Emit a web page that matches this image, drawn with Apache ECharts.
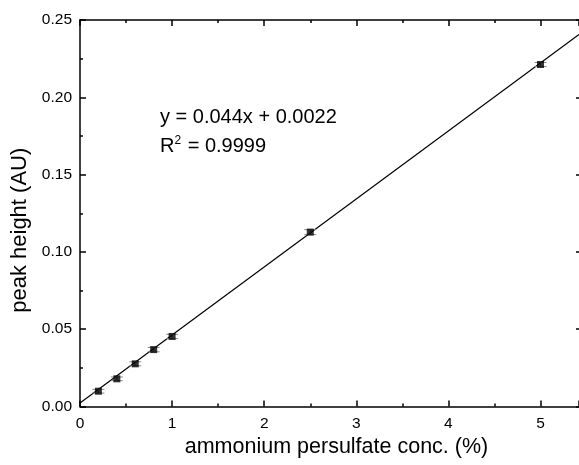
<!DOCTYPE html>
<html><head><meta charset="utf-8">
<script src="https://cdn.jsdelivr.net/npm/echarts@6/dist/echarts.min.js"></script>
<style>html,body{margin:0;padding:0;background:#fff}#c{width:579px;height:465px}</style>
</head><body><div id="c"></div>
<script>
const concX = [0.2, 0.4, 0.6, 0.8, 1.0, 2.5, 5.0];
const peakY = [0.0099, 0.0179, 0.0276, 0.0368, 0.0453, 0.1128, 0.2212];
const errY = [0.0012, 0.0012, 0.0013, 0.0014, 0.0014, 0.0016, 0.0013];
const fitSlope = 0.044, fitIntercept = 0.0022;
const fitX = [0, 5.418];
const eqText = 'y = 0.044x + 0.0022';
const r2Text = '0.9999';

const chart = echarts.init(document.getElementById('c'), null, {renderer:'canvas'});
const font = 'Liberation Sans, Arial, sans-serif';
const axisCommon = {
  axisLine:{show:true, onZero:false, lineStyle:{color:'#000', width:1.5}},
  axisTick:{show:true, inside:true, length:6, lineStyle:{color:'#000', width:1.5}},
  minorTick:{show:true, splitNumber:2, length:3, lineStyle:{color:'#000', width:1.5}},
  splitLine:{show:false}
};
chart.setOption({
  animation:false,
  backgroundColor:'#fff',
  grid:{left:80, top:20, right:0, height:386.5, containLabel:false},
  xAxis:[
    Object.assign({type:'value', min:0, max:5.418, interval:1, position:'bottom',
      name:'ammonium persulfate conc. (%)', nameLocation:'middle', nameGap:26,
      nameTextStyle:{fontFamily:font, fontSize:21.5, color:'#000', verticalAlign:'top', padding:[0,0,0,14]},
      axisLabel:{fontFamily:font, fontSize:15.5, color:'#000', margin:9, showMaxLabel:false}}, axisCommon),
    Object.assign({type:'value', min:0, max:5.418, interval:1, position:'top',
      axisLabel:{show:false}}, axisCommon)
  ],
  yAxis:[
    Object.assign({type:'value', min:0, max:0.25, interval:0.05, position:'left',
      name:'peak height (AU)', nameLocation:'middle', nameGap:40,
      nameTextStyle:{fontFamily:font, fontSize:22, color:'#000', padding:[0,34,0,0]},
      axisLabel:{fontFamily:font, fontSize:15.5, color:'#000', margin:8,
        formatter:v=>v.toFixed(2)}}, axisCommon),
    Object.assign({type:'value', min:0, max:0.25, interval:0.05, position:'right', offset:3,
      axisLabel:{show:false}}, axisCommon)
  ],
  series:[
    {type:'line', xAxisIndex:0, yAxisIndex:0, symbol:'none',
      data: fitX.map(x=>[x, fitSlope*x+fitIntercept]),
      lineStyle:{color:'#000', width:1.2}, silent:true, z:2},
    {type:'custom', xAxisIndex:0, yAxisIndex:0, z:3,
      data: concX.map((x,i)=>[x, peakY[i]-errY[i], peakY[i]+errY[i]]),
      renderItem:(params, api)=>{
        const lo = api.coord([api.value(0), api.value(1)]);
        const hi = api.coord([api.value(0), api.value(2)]);
        const hw = 6;
        const st = {stroke:'#888', lineWidth:1};
        return {type:'group', children:[
          {type:'line', shape:{x1:lo[0], y1:lo[1], x2:hi[0], y2:hi[1]}, style:st},
          {type:'line', shape:{x1:lo[0]-hw, y1:lo[1], x2:lo[0]+hw, y2:lo[1]}, style:st},
          {type:'line', shape:{x1:hi[0]-hw, y1:hi[1], x2:hi[0]+hw, y2:hi[1]}, style:st}
        ]};
      }},
    {type:'scatter', xAxisIndex:0, yAxisIndex:0, symbol:'rect', symbolSize:7,
      itemStyle:{color:'#000'}, z:4,
      data: concX.map((x,i)=>[x, peakY[i]])}
  ],
  graphic:[
    {type:'text', left:160, top:107, style:{text:eqText, font:'20px '+font, fill:'#000'}},
    {type:'text', left:160, top:135, style:{
      text:'{a|R}{s|2}{a| = '+r2Text+'}',
      rich:{a:{font:'20px '+font, fill:'#000', verticalAlign:'bottom'},
            s:{font:'12px '+font, fill:'#000', verticalAlign:'top', padding:[0,1,9,0]}}}}
  ]
});
</script></body></html>
